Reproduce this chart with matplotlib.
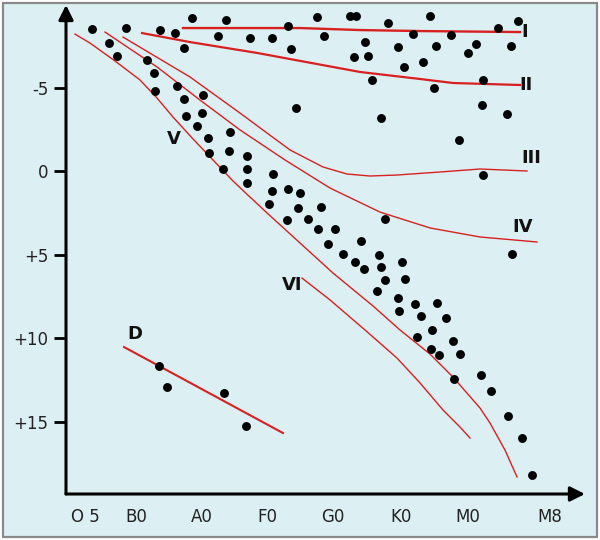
import matplotlib.pyplot as plt
from matplotlib.patches import Rectangle

# Hertzsprung-Russell diagram: spectral class (x, arbitrary scale) vs absolute magnitude
spec_ticks = [85, 136, 202, 267, 333, 401, 468, 550]
spec_labels = ["O 5", "B0", "A0", "F0", "G0", "K0", "M0", "M8"]
mag_ticks = [-5, 0, 5, 10, 15]
mag_labels = ["-5", "0", "+5", "+10", "+15"]

# giants / supergiants (upper part)
giant_x = [92, 126, 160, 175, 192, 226, 218, 250, 272, 288, 291, 184, 317, 350, 356, 388, 430,
           324, 365, 354, 368, 398, 413, 404, 423, 436, 451, 476, 468, 498, 518, 511, 372, 434,
           483, 482, 507, 296, 381, 459, 483, 385, 512]
giant_y = [-8.50, -8.56, -8.44, -8.26, -9.16, -9.04, -8.08, -7.96, -7.96, -8.68, -7.31, -7.37,
           -9.22, -9.28, -9.28, -8.86, -9.28, -8.08, -7.72, -6.83, -6.89, -7.43, -8.20, -6.23,
           -6.53, -7.49, -8.14, -7.60, -7.07, -8.56, -8.98, -7.49, -5.45, -4.97, -5.45, -3.95,
           -3.41, -3.77, -3.17, -1.86, 0.24, 2.87, 4.97]

# main sequence
ms_x = [109, 117, 147, 154, 155, 177, 203, 184, 202, 186, 197, 230, 208, 209, 229, 247, 223,
        247, 247, 273, 272, 288, 300, 269, 298, 321, 287, 308, 318, 335, 361, 328, 343, 379,
        355, 364, 381, 402, 385, 405, 377, 398, 399, 415, 437, 421, 446, 432, 417, 453, 431,
        439, 460, 454, 481, 491, 508, 522, 532]
ms_y = [-7.66, -6.89, -6.65, -5.87, -4.79, -5.09, -4.55, -4.31, -3.47, -3.29, -2.69, -2.34,
        -1.98, -1.08, -1.20, -0.90, -0.12, -0.12, 0.72, 0.18, 1.20, 1.08, 1.32, 1.98, 2.22,
        2.16, 2.93, 2.87, 3.47, 3.47, 4.19, 4.37, 4.97, 5.03, 5.45, 5.87, 5.75, 5.45, 6.53,
        6.47, 7.19, 7.60, 8.38, 7.96, 7.90, 8.68, 8.80, 9.52, 9.94, 10.18, 10.66, 11.02,
        10.96, 12.46, 12.22, 13.17, 14.67, 15.99, 18.20]

# white dwarfs
wd_x = [159, 167, 224, 246]
wd_y = [11.68, 12.93, 13.29, 15.27]

# luminosity class curves
lum_I_x = [183, 300, 360, 420, 520]
lum_I_y = [-8.56, -8.56, -8.44, -8.38, -8.32]
lum_II_x = [142, 190, 257, 360, 420, 453, 520]
lum_II_y = [-8.26, -7.72, -7.07, -5.93, -5.51, -5.27, -5.15]
lum_III_x = [123, 190, 240, 290, 323, 347, 370, 397, 440, 480, 527]
lum_III_y = [-8.02, -5.63, -3.47, -1.26, -0.24, 0.18, 0.30, 0.24, 0.06, -0.12, 0.0]
lum_IV_x = [105, 157, 200, 240, 285, 330, 380, 430, 480, 537]
lum_IV_y = [-8.32, -6.23, -4.25, -2.46, -0.66, 1.02, 2.46, 3.41, 3.95, 4.25]
lum_V_x = [75, 90, 115, 140, 157, 173, 193, 213, 233, 250, 267, 300, 333, 373, 400, 430, 453,
           480, 490, 505, 517]
lum_V_y = [-8.20, -7.66, -6.59, -5.45, -4.37, -3.23, -1.92, -0.66, 0.60, 1.56, 2.51, 4.31,
           6.11, 8.08, 9.52, 10.96, 12.34, 14.19, 15.09, 16.71, 18.32]
lum_VI_x = [302, 330, 365, 397, 420, 443, 460, 470]
lum_VI_y = [6.41, 7.72, 9.52, 11.20, 12.69, 14.31, 15.33, 15.99]
lum_D_x = [124, 283]
lum_D_y = [10.54, 15.69]

labels = ["I", "II", "III", "IV", "V", "VI", "D"]
label_x = [525, 526, 531, 523, 174, 292, 135]
label_y = [-8.32, -5.15, -0.78, 3.35, -1.89, 6.83, 9.73]

RED = '#d92020'

fig = plt.figure(figsize=(6, 5.4), dpi=100)
fig.patch.set_facecolor('white')
fig.patches.append(Rectangle((3/600, 3/540), 594/600, 534/540, transform=fig.transFigure,
                             facecolor='#dcf0f3', edgecolor='#8a8a8a', linewidth=1.6, zorder=-5))

ax = fig.add_axes([66/600, 46/540, 519/600, 489/540])
ax.patch.set_alpha(0)
ax.set_xlim(66, 585)
ax.set_ylim(19.34, -9.94)
for s in ax.spines.values():
	s.set_visible(False)

ax.plot(lum_I_x, lum_I_y, color=RED, lw=1.7)
ax.plot(lum_II_x, lum_II_y, color=RED, lw=1.6)
ax.plot(lum_III_x, lum_III_y, color=RED, lw=1.0)
ax.plot(lum_IV_x, lum_IV_y, color=RED, lw=1.0)
ax.plot(lum_V_x, lum_V_y, color=RED, lw=1.0)
ax.plot(lum_VI_x, lum_VI_y, color=RED, lw=1.0)
ax.plot(lum_D_x, lum_D_y, color=RED, lw=1.5)

for xs, ys in [(giant_x, giant_y), (ms_x, ms_y), (wd_x, wd_y)]:
	ax.plot(xs, ys, 'o', color='black', ms=6.4, mec='none', zorder=3)

for t, x, y in zip(labels, label_x, label_y):
	ax.text(x, y, t, fontsize=13, fontweight='bold', color='#111111', ha='center', va='center')

# axis arrows
ax.annotate('', xy=(0, 1.0), xytext=(0, 0), xycoords='axes fraction',
            arrowprops=dict(arrowstyle='-|>', color='black', lw=2.2, mutation_scale=22,
                            shrinkA=0, shrinkB=0), annotation_clip=False)
ax.annotate('', xy=(1.0, 0), xytext=(0, 0), xycoords='axes fraction',
            arrowprops=dict(arrowstyle='-|>', color='black', lw=2.2, mutation_scale=22,
                            shrinkA=0, shrinkB=0), annotation_clip=False)

ax.set_yticks(mag_ticks)
ax.set_yticklabels(mag_labels)
ax.set_xticks(spec_ticks)
ax.set_xticklabels(spec_labels)
ax.tick_params(axis='y', direction='out', length=8.6, width=2.0, pad=4, labelsize=12,
               labelcolor='#222222')
ax.tick_params(axis='x', length=0, pad=10, labelsize=12, labelcolor='#222222')

plt.savefig("out.png", dpi=100)
